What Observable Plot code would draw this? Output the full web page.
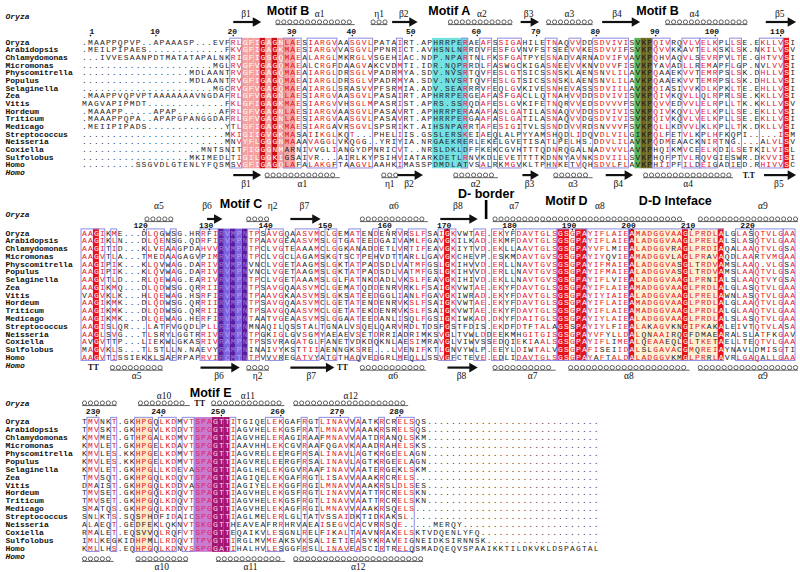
<!DOCTYPE html>
<html>
<head>
<meta charset="utf-8">
<script src="https://cdn.jsdelivr.net/npm/d3@7"></script>
<script src="https://cdn.jsdelivr.net/npm/@observablehq/plot@0.6"></script>
<style>
  html, body { margin: 0; padding: 0; background: #ffffff; }
  #chart svg { display: block; }
</style>
</head>
<body>
<div id="chart"></div>
<script>
// ================= DATA =================
const species = ["Oryza","Arabidopsis","Chlamydomonas","Micromonas","Physcomitrella","Populus","Selaginella","Zea","Vitis","Hordeum","Triticum","Medicago","Streptococcus","Neisseria","Coxiella","Sulfolobus","Homo"];
const ssTopName = "Oryza";
const ssBottomName = "Homo";

const block1 = [
  ".MAAPPQPVP..APAAASP...EVF" + "RLGFIG" + "AGNLAESIARGVAASGVLPATAIRT.APHRRPERAEAFSSIGAH" + "ILETNAQVVDDSDVIVISVKPQIVRQVLVELKPLLSE.EKLLVSI",
  ".MEILPIPAES" + ".".repeat(13) + "F" + "KVGFIG" + "AGKMAESIARGVVASGVLPPNRICT.AVHSNLNRRDVFESFGVN" + "VFSTSEEVVKESDVVIFSVKPQVVKKAVTELKSKLSK.NKILVSV",
  "...IVVESAANPDTMATATAPALNK" + "RIGFIG" + "SGQMAEALARGLMKRGLVSGEHIAC.NDP.NPARTNLFKSFGAT" + "PYESNADVARNADVIFVAVKPQHVAQVLSEVRPVLTE.GHTVVSI",
  ".".repeat(22) + "MGL" + "RVGFVG" + "AGQMAEALCRGFDAAGVAKCVDMTI.IDR.NQPRRDLFASWGCK" + "IGASNEEVVKNVDVVFISVKPYAVADLLREMAPFLGP.NVLVVSI",
  ".".repeat(18) + "MDLAANT" + "RVGFIG" + "AGQMAEAIARGLDRSGLVPADRMYA.SDV.NVSRTQVFESLGTS" + "ICSSNSKLAENSNVLILAVKPQAAEKVVTEMRPSLSK.DHLLVSI",
  ".".repeat(18) + "MDLAANT" + "RVGFIG" + "AGQMAEAIARGLDRSGLVPADRMYA.SDV.NVSRTQVFESLGTS" + "ICSSNSKLAENSNVLILAVKPQAAEKVVTEMRPSLSK.DHLLVSI",
  ".".repeat(22) + "MGC" + "RVGFVG" + "AGQMAEAIARGLSRASVVPFSRMIA.ADV.SEARRRVFEQLGVK" + "IVESNHEVASSSDVIILAVKPQIASIVVKDLKPKLTE.EHLLVSI",
  ".MAAPPVQPVPTAAAAAAAVNGDAF" + "RLGFVG" + "AGNLAESIARGVAASGVLPASAIRT.APHRRPERGEAFASFGAC" + "LLQTNAHVVDDSDVIVISVKPQIVKQVLLQLRPRLSE.KKLLVSI",
  "MAGVAPIPMDT" + ".".repeat(13) + "F" + "KLGFIG" + "AGKMAESIARGVVHSGLMPASRIST.APRS.SSRQDAFESLGVK" + "IFETNQRVVEDSDVVVFSVKPQVVEDVVLELRPLLTK.KKLLVSV",
  ".MAAAPP.....APAP.......AF" + "RLGFVG" + "AGNLAESIARGVAASGVLPASAVRT.APHRRPERAAAFASLGAT" + "ILASNAQVVDDSDVIVISVKPQIVKQVLVELKPLLSE.EKLLVSI",
  ".MAAAPPQPA..APAPGPANGGDAF" + "RLGFVG" + "AGNLAESIARGVAASGVLPASAVRT.APHRRPERGAAFASLGAT" + "ILASNAQVVDGSDVIVISVKPQIVKQVLVELKPLLSE.EKLLVSI",
  ".MEIIPIPADS" + ".".repeat(13) + "Y" + "TLGFIG" + "AGKMAESIARGAVRSGVLSPSRIKT.AIHSNPARRTAFESIGIT" + "VLSSNDDVVRDSNVVVFSVKPQLLKDVVLKLKPLLTK.DKLLVSI",
  ".".repeat(24) + "M" + "KIGIIG" + "VGKMASAIIKGLKQT...PHELIIS.GSSLERSKEIAEQLALPY" + "YAMSHQDLIDQVDLVILGIKPQLFETVLKPLHFKQPI.....ISM",
  ".".repeat(24) + "M" + "NVYFLG" + "GGNMAAAVAGGLVKQGG..YRIYIA.NRGAEKRERLEKELGVET" + "ISATLPELHS.DDVLILAVKPQDMEAACKNIRTNG....ALVLSV",
  ".".repeat(20) + "MNTSN" + "ITFIGG" + "GNMARNIVVGLIANGYDPNRICVT..NRSLDKLDFFKEKCGVHT" + "TTQDNRQGALNADVVVLAVKPHQIKMVCEELKDILSETKILVISL",
  ".".repeat(18) + "MKIMEDL" + "TIGILG" + "GKIGSAIVR...AIRLKYPSIHVIATARKDETLRNVKDLEVETT" + "TTKDNNYAVNKSDVIILSVKPHQFPTVLRQVGIESWR.DKVVISI",
  ".".repeat(9) + "SSGVDLGTENLYFQSM" + "SVGFIG" + "AGQLAFALAKGFTAAGVLAAHKIMASSPDMDLATVSALRKMGVK" + "LTPHNKETVQHSDVLFLAVKPHIIPFILDEIGADIED.RHIVVSC"
];

const block2 = [
  "AAGIKME...DLQGWSG.HRRFIRVMPNTPS" + "AVGQAASVMCLGEMATENDENRVRSLFSAIGKVWTAE.EKYFDA" + "VTGLSGSGPAYIFLAIEAMADGGVAAGLPRDLALGLASQTVLGAA",
  "AAGIKLN...DLQENSG.QDRFIRVMPNTPA" + "AVGEAASVMSLGTGATEEDGAIVAMLFGAVGKILKAD.EKMFDA" + "VTGLSGSGPAYIFLAIEALADGGVAAGLPRELALSLASQTVLGAA",
  "AAGITID...KLVEAAGPDAHVVRVMPNTPC" + "LVGTEAAAMCLGGKANADDETLVRTIFEAVGKIYTVD.EKLLAA" + "VTGLSGSGPAYVFLMIEALADGGVRAGLPRDIAQALAAQTVLGSA",
  "AAGVTLA...TMEDAAGAGVPIMRVMPNTPC" + "LVGCLAGAMSKGTSCTPEHVDTTARLLGAVGKCHEVP.ESKMDA" + "VTGVSGSGPAYIYQVIEAMADGGVLAGLPRAVAQDLAARTVMGAA",
  "AAGIPIK...KLQVWAG.DARIVRVMPNVNC" + "LVGETAAGMSLGKTATPADSDLVATMFGSLGKIHVVD.ERLLNA" + "VTGVSGSGPAYIFMAIEALADGGVASGLTRDVAMSLAAQ.VLGSA",
  "AAGIPIK...KLQVWAG.DARIVRVMPNVNC" + "LVGETAAGMSLGKTATPADSDLVATMFGSLGKIHVVD.ERLLNA" + "VTGVSGSGPAYIFMAIEALADGGVASGLTRDVAMSLAAQTVLGSA",
  "AAGVTLD...RLQEWAG.EARIVRVMPNTPC" + "LVGETAAAMSLGLFATNKDADLVKSLFEAVGKIHIVD.EKLLNA" + "VTGVSGSGPAYIFLVIEALADGGVAAGLPRNIALSLAAQTVYGSA",
  "AAGIKMQ...DLQDWSG.QRRIIRVMPNTPS" + "AVGQAASVMCLGEMATQDDENRVRKLFSAIGKVWTAE.EKYFDA" + "VTGLSGSGPAYIFLAIEAMADGGVAAGLPRDLALGLASQTVLGAA",
  "VAGVKLK...HLQEWAG.HSRFIRVMPNTPA" + "AVGKAASVMSLGKSATEEDGGLIANLFGAVGKIWRAD.EKYFDA" + "VTGLSGSGPAYIYIAIEALADGGVAAGLPRELAWNLASQTVLGAA",
  "AAGIKMK...DLQDWSG.QRRIIRVMPNTPS" + "AVGQAASVMCLGETATENDENRVKSLFSAIGKVWTAE.EKYFDA" + "VTGLSGSGPAYIFLAIEAMADGGVAAGLPRDLALGLAAQTVLGAA",
  "AAGIKMK...DLQDWSG.QRRIIRVMPNTPS" + "AVGQAASVMCLGETATEKDENRVKSLFSAIGKVWTAE.EKYFDA" + "VTGLSGSGPAYIFLAIEAMADGGVAAGLPRDLALGLAAQTVLGAA",
  "AAGIKMK...DLQEWAG.HERFIRVMPNTAA" + "TVGEAASVMSLGGAATEEDANLISQLFGSIGKIWKAD.DKYFDA" + "ITGLSGSGPAYIYLAIEALADGGVAAGLPRDLALSLASQTVLGAA",
  "AAGISLQR...LATFVGQDLPLLRIMPNMNA" + "QILQSSTALTGNALVSQELQARVRDLTDSFGSTFDIS.EKDFDT" + "FTALAGSSPAYIYLFIEALAKAGVKNGIPKAKALEIVTQTVLASA",
  "AAGLSVG...TLSRYLGGTRRIVRVMPNTPG" + "KIGLGVSGMYAEAEVSETDRRIADRIMKSVGLTVWLDDEEKMHG" + "ITGISGSGPAYVFYLLDALQNAAIRQGFDMAEARALSLATFKGAV",
  "AVGVTTP...LIEKWLGKASRIVRAMPNTPS" + "SVRAGATGLFANETVDKDQKNLAESIMRAVGLVIWVSSEDQIEK" + "IAALSGSGPAYIFLIMEALQEAAEQLGLTKETAELLTEQTVLGAA",
  "MAGVKLS...TLSTLLN.NAEVYRAMPNINA" + "IVYKSTTIIAENNGKSRE...LVENIFKTLGNVYWLP.EEYLDI" + "WTALVGSGPAFISEIIDALSLGAVACGMQREIAYNAVLDMISGTI",
  "AAGVTISSIEKKLSAFRPAPRVIRCMTNTPV" + "VVREGATVYATGTHAQVEDGRLMEQLLSSVGFCTEVE.EDLIDA" + "VTGLSGSGPAYAFTALDALADGGVKMGLPRRLAVRLGAQALLGAA"
];

const block3 = [
  "TMVNKT.GKHPGQLKDMVTSPAGTTITGIQEL" + "EKGAFRGTLINAVVAATKRCRELSQS",
  "TMVSKT.GKHPGVLKDDVTSPGGTTIAGVHEL" + "EKGSFRATLMNAVVAAAKRSRELSQS",
  "KMVMET.GTHPGALKDMVTSPAGTTIAGVHEL" + "ERAGIRAAFMNAVVAATDRANQLSKM",
  "KMVLET.GKHPGELKDAVTSPGGTTIAAVHHL" + "EKCGVRAAFQGAVKAAADRAHELSKS",
  "KMVLES.KKHPGELKDMVTSPAGTTIAGVREL" + "EERGFRSALINAVLAGTKRGEELAGN",
  "KMVLES.KKHPGELKDMVTSPAGTTIAGVREL" + "EERGFRSALINAVLAGTKRGEELAGN",
  "KMVLET.GKHPGLLKDEVASPGGTTIAGLHEL" + "EKGGVRAAFINAVVAATERGEKLSKM",
  "TMVSQT.GKHPGQLKDQVTSPAGTTIAGIQEL" + "EKGAFRGTLISAVVAAAKRCRELS",
  "DMAIST.GKHPGQLKDDVASPGGTTIAGIYEL" + "EKGGFRGILMNAVVAAAKRSLDLSES",
  "TMVSET.GKHPGQLKDQVTSPAGTTIAGVHEL" + "EKGSFRGTLINAVVAATTRCRELSKN",
  "TMVSET.GKHPGQLKDQVTSPAGTTIAGVHEL" + "EKGSFRGTLINAVVAATTRCRELSKN",
  "SMATQS.GKHPGQLKDDVTSPGGTTIAGVHEL" + "EKAGFRGILMNAVVAAAKRSQELS",
  "SNLKTS.SQSPHDFIDAICSPGGTTIAGLMEL" + "ERLGLTATVSSAIDKTIDKAKSL",
  "ALAEQT.GEDFEKLQKNVTSKGGTTHEAVEAF" + "RRHRVAEAISEGVCACVRRSQE.....MERQY",
  "RMALET.EQSVVQLRQFVTSPGGTTEQAIKVL" + "ESGNLRELFIKALTAAVNRAKELSKTVDQENLYFQ",
  "IMLKEGKIDHPMLLRDQVTTPVGTTIRGLMVM" + "EAKSVKSALIETIEASYKRAVEIGNEIDKSIRNNSK",
  "KMLLHS.EQHPGQLKDNVSSPGGATIHALHVL" + "ESGGFRSLLINAVEASCIRTRELQSMADQEQVSPAAIKKTILDKVKLDSPAGTAL"
];
const blockWidths = [120, 120, 87];

// strictly conserved columns (white on red)
const conserved1 = [30, 32, 94, 95, 118];
const conserved2 = [2, 23, 25, 27, 61, 80, 81, 83, 84, 92, 101, 107];
const conserved3 = [22, 23, 24];

// similarity boxes (first column, last column)
const frames1 = [[25,26],[34,36],[38,42],[45,48],[53,53],[64,64],[67,68],[70,73],[78,79],[82,83],[86,91],[96,98],[101,103],[104,106],[109,110],[114,117]];
const frames2 = [[0,3],[5,5],[11,13],[15,15],[20,22],[28,29],[31,33],[36,39],[41,42],[45,46],[49,49],[53,53],[55,57],[60,62],[66,67],[69,70],[73,79],[80,84],[85,91],[92,107],[110,112],[113,117],[118,119]];
const frames3 = [[1,2],[5,5],[9,11],[13,15],[17,18],[25,25],[31,33],[37,37],[40,44],[46,46],[50,50],[53,55]];

// highlighted motif regions
const motifRegions = [
  {block: 0, c1: 27, c2: 35, kind: "B"},
  {block: 0, c1: 59, c2: 64, kind: "A"},
  {block: 0, c1: 93, c2: 95, kind: "B2"},
  {block: 1, c1: 23, c2: 27, kind: "C"},
  {block: 1, c1: 93, c2: 106, kind: "DD"},
  {block: 2, c1: 9, c2: 11, kind: "Y"},
  {block: 2, c1: 19, c2: 24, kind: "E"}
];
const motifLabels = [
  {block: 0, level: 1, c: 34.2, text: "Motif B"},
  {block: 0, level: 1, c: 61.3, text: "Motif A"},
  {block: 0, level: 1, c: 96.3, text: "Motif B"},
  {block: 1, level: 2, c: 26.3, text: "Motif C"},
  {block: 1, level: 0, c: 67.5, text: "D- border"},
  {block: 1, level: 1, c: 81.0, text: "Motif D"},
  {block: 1, level: 1, c: 99.3, text: "D-D Inteface"},
  {block: 2, level: 1, c: 21.2, text: "Motif E"}
];
const borderMark = [{block: 1, c: 67.5}];

// secondary structure: H helix, N eta (3-10), E strand, T turn
const ssTop = [
  [{t:"E",c1:25,c2:29.3,label:"β1"},{t:"H",c1:32.5,c2:45,label:"α1",lc:39.5},{t:"N",c1:48.5,c2:50.5,label:"η1"},{t:"E",c1:51.7,c2:55.6,label:"β2"},{t:"H",c1:61.5,c2:71.5,label:"α2",lc:66.8},{t:"E",c1:73.3,c2:76,label:"β3"},{t:"H",c1:78,c2:85,label:"α3"},{t:"E",c1:87,c2:93,label:"β4",lc:89.5},{t:"H",c1:98,c2:111,label:"α4",lc:102.5},{t:"E",c1:114.5,c2:119.2,label:"β5"}],
  [{t:"H",c1:10.5,c2:14.5,label:"α5"},{t:"E",c1:20.6,c2:22.8,label:"β6",lc:20.6},{t:"N",c1:27.6,c2:30.6,label:"η2",lc:31.6},{t:"E",c1:34.6,c2:39.3,label:"β7"},{t:"H",c1:46.7,c2:57.3,label:"α6"},{t:"E",c1:59.8,c2:65.7,label:"β8"},{t:"H",c1:69,c2:76,label:"α7",lc:72.2},{t:"H",c1:77,c2:100.5,label:"α8",lc:86.6},{t:"H",c1:103.5,c2:119.5,label:"α9",lc:114}],
  [{t:"H",c1:0,c2:5,label:""},{t:"H",c1:9.4,c2:17.3,label:"α10"},{t:"T",c1:18.4,c2:20.3,label:"TT"},{t:"H",c1:21.7,c2:33.2,label:"α11"},{t:"H",c1:35.5,c2:54,label:"α12"}]
];
const ssBottom = [
  [{t:"E",c1:25,c2:29.3,label:"β1"},{t:"H",c1:30.7,c2:42.5,label:"α1"},{t:"N",c1:50.3,c2:52.3,label:"η1"},{t:"E",c1:52.6,c2:56.5,label:"β2"},{t:"H",c1:62.4,c2:69.1,label:"α2"},{t:"E",c1:73.6,c2:76,label:"β3"},{t:"H",c1:79.2,c2:85,label:"α3"},{t:"E",c1:87.6,c2:91.8,label:"β4"},{t:"H",c1:94.3,c2:108.6,label:"α4"},{t:"T",c1:109.7,c2:113.6,label:"T.T"},{t:"E",c1:114.2,c2:119.2,label:"β5"}],
  [{t:"T",c1:1,c2:2,label:"TT"},{t:"H",c1:4.7,c2:12.8,label:"α5"},{t:"E",c1:19.5,c2:25.7,label:"β6"},{t:"N",c1:27.6,c2:30.6,label:"η2"},{t:"E",c1:34.6,c2:41.6,label:"β7"},{t:"T",c1:42.5,c2:44.2,label:"TT"},{t:"H",c1:46.7,c2:57,label:"α6"},{t:"E",c1:61,c2:65.7,label:"β8"},{t:"H",c1:69,c2:78.8,label:"α7",lc:75.3},{t:"H",c1:81.7,c2:101.3,label:"α8"},{t:"H",c1:103.5,c2:119.5,label:"α9",lc:114}],
  [{t:"H",c1:0,c2:4.5,label:""},{t:"H",c1:9,c2:17,label:"α10"},{t:"H",c1:22.5,c2:33.3,label:"α11"},{t:"H",c1:35.5,c2:56.5,label:"α12"}]
];

// ================= LAYOUT / STYLE =================
const X0 = 84, CW = 5.95;
const layout = [
  {row0: 41.7,  pitch: 7.67, num: 30.5,  ssTop: 21.5,  nameTop: 16,    labelTop: 13,    motifY: [10.5, 10.5, 10.5], barTop: 0},
  {row0: 232.5, pitch: 7.77, num: 224.5, ssTop: 218.5, nameTop: 213.5, labelTop: 205.5, motifY: [193, 200, 203], barTop: 199.5},
  {row0: 421,   pitch: 7.93, num: 410.5, ssTop: 402.5, nameTop: 403,   labelTop: 395,   motifY: [392, 392, 392], barTop: 0}
];
const RED = "#e3151c", BLACK = "#262626", CONS = "#e5141b", FRAME = "#8c8ce4";
const motifStyle = {
  B:  {light: "#f4a0a0", dark: "#cc0d15", textLight: "#ffffff", textDark: "#ffffff"},
  A:  {light: "#74e1e1", dark: "#74e1e1", textLight: null, textDark: null},
  B2: {light: "#56b656", dark: "#6c6a1e", textLight: "#1b1b1b", textDark: "#1b1b1b"},
  C:  {light: "#7c64e0", dark: "#5b1d9f", textLight: "#b6a6f2", textDark: "#9a78dc"},
  DD: {light: "#fdf0d2", dark: CONS, textLight: null, textDark: "#ffffff"},
  Y:  {light: "#fde8c2", dark: CONS, textLight: null, textDark: "#ffffff"},
  E:  {light: "#c97ccc", dark: "#a3146f", textLight: "#d8266c", textDark: "#f8d4ea"}
};
const SEQ_FONT = "Liberation Mono, DejaVu Sans Mono, monospace";
const SERIF = "Liberation Serif, DejaVu Serif, serif";
const SANS = "Liberation Sans, Arial, sans-serif";

// ================= DERIVED =================
const blocks = [block1, block2, block3].map((rows, b) => rows.map(s => s.padEnd(blockWidths[b], ".").slice(0, blockWidths[b])));
const consSets = [conserved1, conserved2, conserved3].map(a => new Set(a));
const frameLists = [frames1, frames2, frames3];
const frameSets = frameLists.map(list => { const s = new Set(); list.forEach(([a, z]) => { for (let c = a; c <= z; c++) s.add(c); }); return s; });
const groups = ["ILVM", "FYW", "KRH", "DE", "NQ", "ST", "AG", "P", "C"];
const groupOf = ch => groups.findIndex(g => g.includes(ch));
const motifAt = (b, c) => motifRegions.find(m => m.block === b && c >= m.c1 && c <= m.c2);

const rowY = (b, r) => layout[b].row0 + r * layout[b].pitch;
const lastRow = species.length - 1;
const colTop = b => rowY(b, 0) - layout[b].pitch / 2;
const colBot = b => rowY(b, lastRow) + layout[b].pitch / 2;
const bottomNameY = b => rowY(b, lastRow + 1);

const cells = [];
const colFills = [];
blocks.forEach((rows, b) => {
  const n = blockWidths[b];
  const consGroup = [];
  for (let c = 0; c < n; c++) {
    const counts = {};
    rows.forEach(s => { const ch = s[c]; if (ch !== ".") counts[ch] = (counts[ch] || 0) + 1; });
    let best = null, bc = 0;
    for (const k in counts) if (counts[k] > bc) { bc = counts[k]; best = k; }
    consGroup.push(best ? groupOf(best) : -1);
    const m = motifAt(b, c), cons = consSets[b].has(c);
    let fill = null;
    if (m) fill = cons ? motifStyle[m.kind].dark : motifStyle[m.kind].light;
    else if (cons) fill = CONS;
    if (fill) colFills.push({b, c, fill});
  }
  rows.forEach((s, r) => {
    for (let c = 0; c < n; c++) {
      const ch = s[c];
      const m = motifAt(b, c), cons = consSets[b].has(c), framed = frameSets[b].has(c);
      let color = BLACK;
      if (ch === ".") color = "#333";
      else if (m && cons && motifStyle[m.kind].textDark) color = motifStyle[m.kind].textDark;
      else if (m && !cons && !framed && motifStyle[m.kind].textLight) color = motifStyle[m.kind].textLight;
      else if (cons) color = "#ffffff";
      else if (framed) color = groupOf(ch) === consGroup[c] ? RED : BLACK;
      cells.push({b, r, c, ch, y: rowY(b, r), color});
    }
  });
});

const frameRects = [];
frameLists.forEach((list, b) => list.forEach(([c1, c2]) => frameRects.push({b, c1, c2})));

// residue numbering from the reference sequence (first row)
const ticks = [];
let resNo = 0;
blocks.forEach((rows, b) => {
  const s = rows[0];
  for (let c = 0; c < s.length; c++) {
    if (s[c] === ".") continue;
    resNo++;
    if (resNo % 10 === 0 || resNo === 1) ticks.push({b, c, label: String(resNo)});
  }
});

// secondary-structure marks
const ssItems = [];
ssTop.forEach((list, b) => list.forEach(d => ssItems.push({...d, b, y: layout[b].ssTop, ly: layout[b].labelTop})));
ssBottom.forEach((list, b) => list.forEach(d => ssItems.push({...d, b, y: bottomNameY(b) + 2.5, ly: bottomNameY(b) + 11})));
const loops = [];
ssItems.filter(d => d.t === "H" || d.t === "N").forEach(d => {
  for (let c = d.c1; c <= d.c2 + 1e-6; c += 1) loops.push({c, y: d.y});
});
const helices = ssItems.filter(d => d.t === "H" || d.t === "N");
const strands = ssItems.filter(d => d.t === "E");
const turns = ssItems.filter(d => d.t === "T");
const ssLabels = ssItems.filter(d => d.t !== "T" && d.label);

const nameRows = [];
blocks.forEach((rows, b) => species.forEach((sp, r) => nameRows.push({b, y: rowY(b, r), text: sp})));
const italicNames = [];
blocks.forEach((rows, b) => {
  italicNames.push({y: layout[b].nameTop, text: ssTopName});
  italicNames.push({y: bottomNameY(b), text: ssBottomName});
});
const NAME_COL = (5 - X0) / CW;

// ================= PLOT =================
const chart = Plot.plot({
  width: 800,
  height: 572,
  margin: 0,
  x: {type: "linear", domain: [(0 - X0) / CW, (800 - X0) / CW], range: [0, 800], axis: null},
  y: {type: "linear", domain: [0, 572], range: [0, 572], axis: null},
  color: {type: "identity"},
  style: {background: "#ffffff"},
  marks: [
    Plot.rect(colFills, {x1: d => d.c - 0.5, x2: d => d.c + 0.5, y1: d => colTop(d.b), y2: d => colBot(d.b), fill: "fill"}),
    Plot.rect(frameRects, {x1: d => d.c1 - 0.5, x2: d => d.c2 + 0.5, y1: d => colTop(d.b) + 0.3, y2: d => colBot(d.b) - 0.3, fill: "none", stroke: FRAME, strokeWidth: 1}),
    Plot.text(cells, {x: "c", y: "y", text: "ch", fill: "color", fontSize: 8, fontFamily: SEQ_FONT, textAnchor: "middle"}),
    Plot.text(nameRows, {x: NAME_COL, y: "y", text: "text", fontSize: 8, fontWeight: "bold", fontFamily: SEQ_FONT, textAnchor: "start", fill: "#111"}),
    Plot.text(italicNames, {x: NAME_COL, y: "y", text: "text", fontSize: 8, fontWeight: "bold", fontStyle: "italic", fontFamily: SEQ_FONT, textAnchor: "start", fill: "#111"}),
    Plot.text(ticks, {x: d => d.c + 0.65, y: d => layout[d.b].num, text: "label", fontSize: 8, fontWeight: "bold", fontFamily: SEQ_FONT, textAnchor: "end", fill: "#111"}),
    Plot.dot(ticks, {x: "c", y: d => layout[d.b].num + 4.6, r: 0.8, fill: "#111"}),
    Plot.dot(loops, {x: "c", y: "y", r: 2.1, stroke: "#222", strokeWidth: 0.7, fill: "none"}),
    Plot.link(helices, {x1: d => d.c1 - 0.4, x2: d => d.c2 + 0.4, y1: d => d.y + 2.6, y2: d => d.y + 2.6, stroke: "#222", strokeWidth: 0.7}),
    Plot.link(strands, {x1: "c1", x2: d => d.c2 - 0.8, y1: "y", y2: "y", stroke: "#111", strokeWidth: 2.2}),
    Plot.dot(strands, {x: d => d.c2 - 0.55, y: "y", symbol: "triangle", rotate: 90, r: 3.6, fill: "#111", stroke: "none"}),
    Plot.text(turns, {x: d => (d.c1 + d.c2) / 2, y: "y", text: "label", fontSize: 8, fontWeight: "bold", fontFamily: SERIF, fill: "#111"}),
    Plot.text(ssLabels, {x: d => d.lc ?? (d.c1 + d.c2) / 2, y: "ly", text: "label", fontSize: 9.5, fontFamily: SERIF, fill: "#111"}),
    Plot.text(motifLabels, {x: "c", y: d => layout[d.block].motifY[d.level], text: "text", fontSize: 12.5, fontWeight: "bold", fontFamily: SANS, fill: "#000"}),
    Plot.link(borderMark, {x1: "c", x2: "c", y1: d => layout[d.block].barTop, y2: d => layout[d.block].ssTop, stroke: "#000", strokeWidth: 2.6})
  ]
});
document.getElementById("chart").appendChild(chart);
</script>
</body>
</html>
